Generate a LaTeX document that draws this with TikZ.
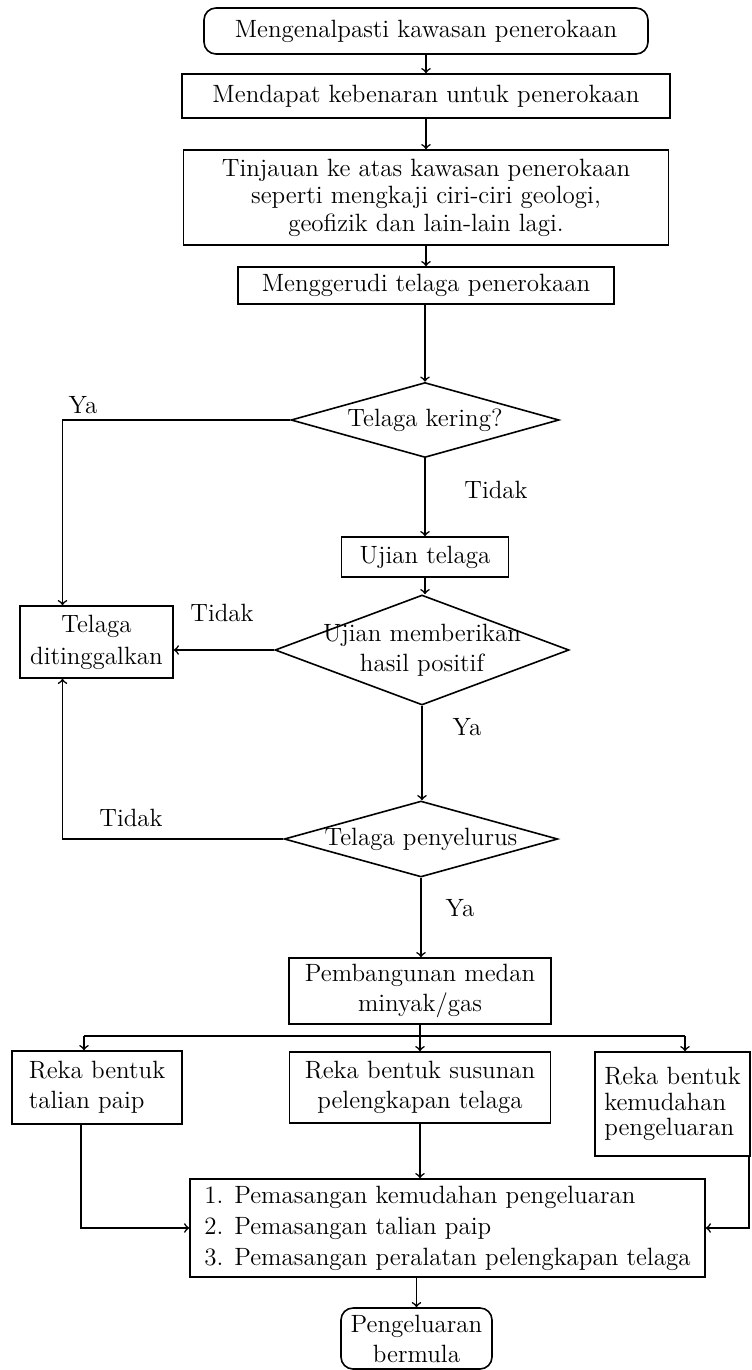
\documentclass[tikz,border=0pt]{standalone}
\usepackage{fontspec}
\usetikzlibrary{shapes.geometric}
\tikzset{
  every node/.style={font=\fontsize{12.5}{15}\selectfont},
  box/.style={draw,rectangle,inner sep=0pt,align=center,line width=0.8pt},
  rbox/.style={box,rounded corners=6pt},
  dec/.style={draw,diamond,inner sep=0pt,aspect=3.6,line width=0.8pt},
}
\begin{document}
\begin{tikzpicture}[x=0.5pt,y=-0.5pt,line width=0.8pt]
\useasboundingbox (0,0) rectangle (751,1370);
\node[rbox,minimum width=222pt,minimum height=23pt] (kenal) at (426,31) {Mengenalpasti kawasan penerokaan};
\node[box,minimum width=244pt,minimum height=22pt] (benar) at (426,96) {Mendapat kebenaran untuk penerokaan};
\node[box,minimum width=242.5pt,minimum height=47.5pt,font=\fontsize{12.5}{13.8}\selectfont] (tinjau) at (426,197.5) {Tinjauan ke atas kawasan penerokaan\\seperti mengkaji ciri-ciri geologi,\\geofizik dan lain-lain lagi.};
\node[box,minimum width=188pt,minimum height=18.5pt] (gerudi) at (426,285.5) {Menggerudi telaga penerokaan};
\node[dec,minimum width=134pt,minimum height=37.5pt] (kering) at (425,420) {Telaga kering?};
\node[box,minimum width=83.5pt,minimum height=20pt] (ujian) at (425,557) {Ujian telaga};
\node[dec,minimum width=147pt,minimum height=55pt,label={[align=center]center:Ujian memberikan\\hasil positif}] (positif) at (422,650) {};
\node[box,minimum width=76.5pt,minimum height=36pt,font=\fontsize{12.5}{16}\selectfont] (tinggal) at (96.5,642) {Telaga\\ditinggalkan};
\node[dec,minimum width=134pt,minimum height=36pt] (lurus) at (421,839) {Telaga penyelurus};
\node[box,minimum width=131pt,minimum height=33pt] (bangun) at (420,991) {Pembangunan medan\\minyak/gas};
\node[box,align=left,minimum width=85pt,minimum height=36.5pt] (paip) at (97,1087.5) {Reka bentuk\\talian paip};
\node[box,minimum width=130.5pt,minimum height=35.5pt] (susun) at (420,1087.5) {Reka bentuk susunan\\pelengkapan telaga};
\node[box,align=left,minimum width=77.5pt,minimum height=52pt,font=\fontsize{12.5}{12.8}\selectfont] (mudah) at (672.5,1104) {Reka bentuk\\kemudahan\\pengeluaran};
\node[box,align=left,minimum width=257.5pt,minimum height=49pt,font=\fontsize{12.5}{15.5}\selectfont] (pasang) at (447.5,1228) {1. Pemasangan kemudahan pengeluaran\\2. Pemasangan talian paip\\3. Pemasangan peralatan pelengkapan telaga};
\node[rbox,minimum width=75.5pt,minimum height=30.5pt] (mula) at (416.5,1338.5) {Pengeluaran\\bermula};
% label jawapan
\node (ya1) at (83,405) {Ya};
\node (tidak1) at (496,490) {Tidak};
\node (tidak2) at (222,613) {Tidak};
\node (ya2) at (467,727) {Ya};
\node (tidak3) at (131,818) {Tidak};
\node (ya3) at (460,908) {Ya};
\coordinate (cab) at (420,1036);
\coordinate (cabL) at (84,1036);
\coordinate (cabR) at (685,1036);
\draw[->] (kenal) -- (benar);
\draw[->] (benar) -- (tinjau);
\draw[->] (tinjau) -- (gerudi);
\draw[->] (gerudi.south -| kering.north) -- (kering);
\draw[->] (kering) -- (ujian);
\draw[->] (ujian) -- (ujian |- positif.north);
\draw[->] (kering.west) -| ([xshift=-17pt]tinggal.north);
\draw[->] (positif.west) -- (positif.west -| tinggal.east);
\draw[->] (positif.south) -- (positif.south |- lurus.north);
\draw[->] (lurus.west) -| ([xshift=-17pt]tinggal.south);
\draw[->] (lurus.south) -- (lurus.south |- bangun.north);
\draw (bangun) -- (cab);
\draw (cabL) -- (cabR);
\draw[->] (cabL) -- (cabL |- paip.north);
\draw[->] (cab) -- (susun);
\draw[->] (cabR) -- (cabR |- mudah.north);
\draw[->] ([xshift=-8pt]paip.south) |- (pasang.west);
\draw[->] (susun) -- (susun |- pasang.north);
\draw[->] ([xshift=-1pt]mudah.south east) |- (pasang.east);
\draw[->] (mula |- pasang.south) -- (mula);
\end{tikzpicture}
\end{document}
